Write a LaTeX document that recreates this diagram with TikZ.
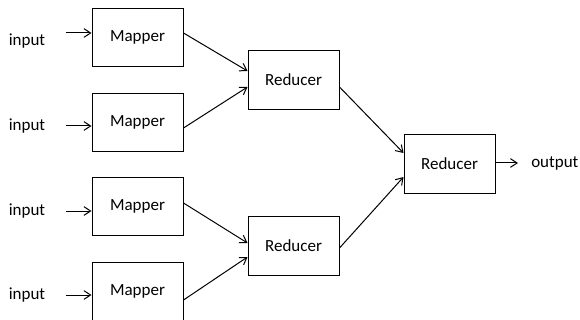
\documentclass[tikz,border=0pt]{standalone}
\usepackage{fontspec}
\setmainfont{Carlito}
\usetikzlibrary{arrows.meta}
\begin{document}
\begin{tikzpicture}[x=0.75pt,y=-0.75pt,
  box/.style={draw=black,line width=0.75pt,minimum width=68.25pt,minimum height=44pt,inner sep=0pt,font=\fontsize{12.75}{15}\selectfont},
  lbl/.style={inner sep=0pt,font=\fontsize{12.75}{15}\selectfont},
  arr/.style={line width=0.75pt,-{Straight Barb[length=5pt,width=6.5pt]}}]
\useasboundingbox (0,0) rectangle (580,320);
% mappers
\node[box] (m1) at (137.5,37.5) {Mapper};
\node[box] (m2) at (137.5,122.5) {Mapper};
\node[box] (m3) at (137.5,206.5) {Mapper};
\node[box] (m4) at (137.5,291.5) {Mapper};
% reducers
\node[box] (r1) at (293.5,80) {Reducer};
\node[box] (r2) at (293.5,246) {Reducer};
\node[box] (r3) at (449.5,164) {Reducer};
% inputs
\node[lbl] (i1) at (27,41) {input};
\node[lbl] (i2) at (27,126) {input};
\node[lbl] (i3) at (27,211) {input};
\node[lbl] (i4) at (27,295) {input};
\coordinate (s1) at (66,33);
\coordinate (s2) at (66,126);
\coordinate (s3) at (66,211);
\coordinate (s4) at (66,295);
\draw[arr] (s1) -- (m1.west |- s1);
\draw[arr] (s2) -- (m2.west |- s2);
\draw[arr] (s3) -- (m3.west |- s3);
\draw[arr] (s4) -- (m4.west |- s4);
% mapper to reducer
\draw[arr] (m1.east |- 0,33) -- (r1.west |- 0,71);
\draw[arr] (m2.east |- 0,128) -- (r1.west |- 0,87);
\draw[arr] (m3.east |- 0,203) -- (r2.west |- 0,243);
\draw[arr] (m4.east |- 0,300) -- (r2.west |- 0,257);
% reducer to reducer
\draw[arr] (r1.east |- 0,87) -- (r3.west |- 0,153);
\draw[arr] (r2.east |- 0,248) -- (r3.west |- 0,177);
% output
\coordinate (oe) at (518,163);
\node[lbl,anchor=west] (out) at (531,163) {output};
\draw[arr] (r3.east |- oe) -- (oe);
\end{tikzpicture}
\end{document}
